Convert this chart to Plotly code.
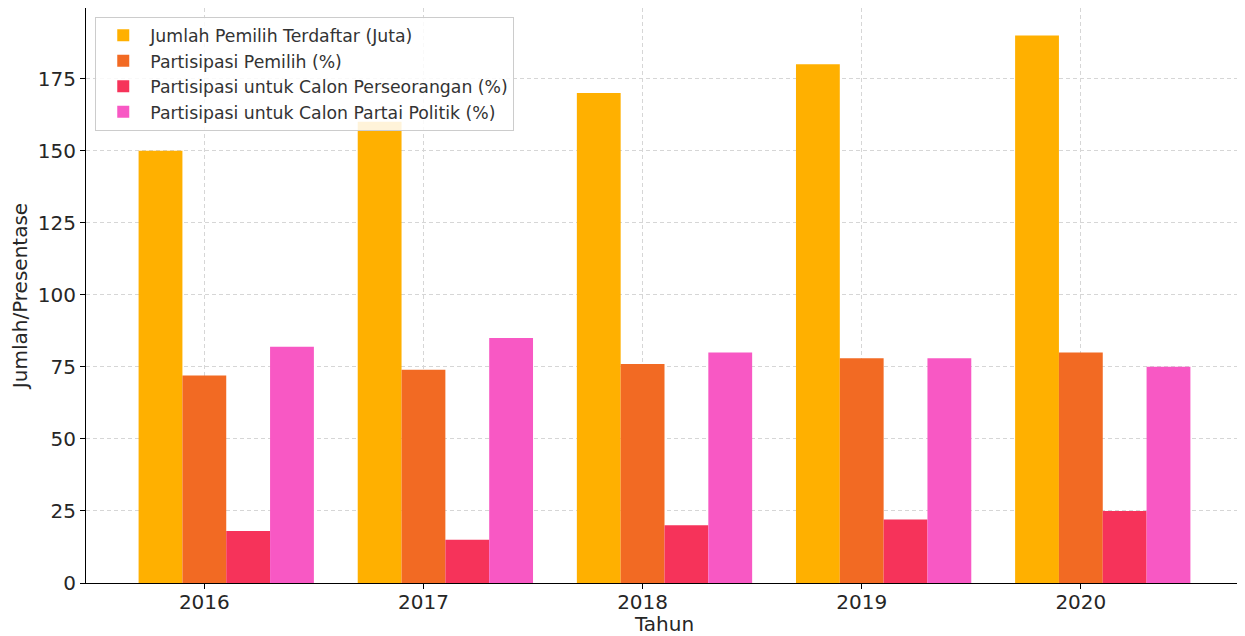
import plotly.graph_objects as go

years = [2016, 2017, 2018, 2019, 2020]
pemilih_terdaftar = [150, 160, 170, 180, 190]
partisipasi_pemilih = [72, 74, 76, 78, 80]
calon_perseorangan = [18, 15, 20, 22, 25]
calon_partai = [82, 85, 80, 78, 75]

series = [
    ("Jumlah Pemilih Terdaftar (Juta)", pemilih_terdaftar, "#ffb000", -0.3),
    ("Partisipasi Pemilih (%)", partisipasi_pemilih, "#f26a23", -0.1),
    ("Partisipasi untuk Calon Perseorangan (%)", calon_perseorangan, "#f6335a", 0.1),
    ("Partisipasi untuk Calon Partai Politik (%)", calon_partai, "#f858c4", 0.3),
]

fig = go.Figure()
for name, vals, color, off in series:
    fig.add_trace(go.Bar(
        x=years, y=vals, name=name, width=0.2, offset=off,
        marker=dict(color=color, line=dict(width=0)),
    ))

font = "DejaVu Sans, sans-serif"
grid = "#d6d6d6"
fig.update_layout(
    width=1237, height=628,
    barmode="overlay",
    paper_bgcolor="white", plot_bgcolor="white",
    margin=dict(l=78, r=2, t=0, b=53, autoexpand=False),
    font=dict(family=font, size=19, color="#262626"),
    showlegend=True,
    legend=dict(
        x=0.008, y=0.985, xanchor="left", yanchor="top",
        bgcolor="rgba(255,255,255,0.85)", bordercolor="#cccccc", borderwidth=1,
        font=dict(size=17.3, color="#333333"), traceorder="normal",
        itemwidth=44,
    ),
    xaxis=dict(
        range=[2016 - 0.54, 2020 + 0.74],
        tickmode="array", tickvals=years, ticktext=[str(y) for y in years],
        showgrid=True, gridcolor=grid, griddash="4px,3px", gridwidth=1,
        showline=True, linecolor="black", linewidth=1.2,
        ticks="outside", ticklen=5, tickcolor="black",
        tickfont=dict(size=20), ticklabelstandoff=-4,
        title=dict(text="Tahun", font=dict(size=20), standoff=6),
        zeroline=False,
    ),
    yaxis=dict(
        range=[0, 199.5],
        tickmode="array", tickvals=[0, 25, 50, 75, 100, 125, 150, 175],
        showgrid=True, gridcolor=grid, griddash="4px,3px", gridwidth=1,
        showline=True, linecolor="black", linewidth=1.2,
        ticks="outside", ticklen=5, tickcolor="black",
        tickfont=dict(size=20),
        title=dict(text="Jumlah/Presentase", font=dict(size=20), standoff=10),
        zeroline=False,
    ),
)

fig.write_html("out.html")
